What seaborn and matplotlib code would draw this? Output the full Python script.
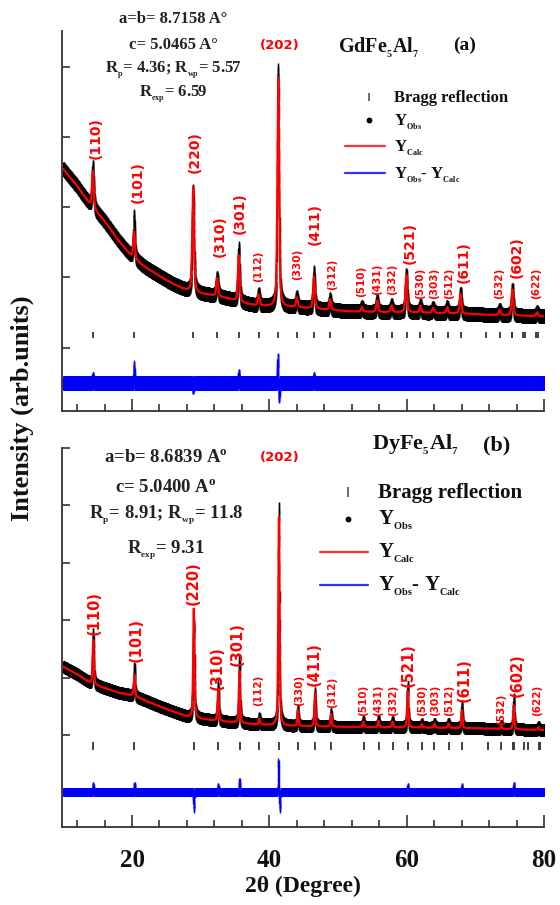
import numpy as np
import pandas as pd
import matplotlib
matplotlib.use("Agg")
import matplotlib.pyplot as plt
from matplotlib.lines import Line2D
from matplotlib.ticker import FixedLocator, MultipleLocator
import seaborn as sns

# ---------------------------------------------------------------- data
two_theta = np.round(np.arange(10.0, 80.0 + 1e-9, 0.02), 2)

hkl = ["(110)", "(101)", "(220)", "(310)", "(301)", "(112)", "(202)",
       "(330)", "(411)", "(312)", "(510)", "(431)", "(332)", "(521)",
       "(530)", "(303)", "(512)", "(611)", "(532)", "(602)", "(622)"]

# GdFe5Al7 (a)
gd_pos = [14.3, 20.3, 28.9, 32.4, 35.55, 38.45, 41.3, 44.0, 46.5, 48.85,
          53.5, 55.7, 57.8, 59.95, 62.0, 63.85, 65.9, 67.85, 73.55, 75.4, 79.0]
gd_height = [530, 385, 1495, 256, 660, 155, 3250, 136, 460, 148,
             66, 163, 94, 533, 97, 70, 88, 283, 75, 365, 55]
gd_bg_x = [10, 12, 14, 16, 18, 20, 22, 24, 26, 28, 30, 32, 34, 36, 38, 40,
           44, 48, 52, 56, 60, 64, 68, 72, 76, 80]
gd_bg_y = [2540, 2300, 2020, 1800, 1530, 1290, 1140, 1020, 905, 815, 770,
           740, 700, 640, 600, 588, 575, 545, 515, 508, 505, 495, 485, 468,
           458, 446]
gd_res_x = [14.3, 20.3, 28.9, 35.55, 41.22, 41.42, 46.5]
gd_res_a = [60, 220, -60, 100, 330, -190, 60]
gd_bragg = [14.3, 20.3, 28.9, 32.4, 35.6, 38.5, 41.3, 44.0, 46.5, 48.9,
            53.6, 55.7, 57.8, 60.0, 62.0, 63.9, 66.0, 67.9, 71.6, 73.6,
            75.3, 75.4, 76.9, 77.3, 78.9, 79.1]

# DyFe5Al7 (b)
dy_pos = [14.35, 20.35, 29.0, 32.55, 35.65, 38.55, 41.4, 44.15, 46.65, 49.0,
          53.7, 55.9, 57.95, 60.15, 62.2, 64.05, 66.1, 68.05, 73.8, 75.6, 79.2]
dy_height = [780, 380, 1900, 530, 915, 105, 3630, 285, 580, 220,
             90, 110, 95, 635, 60, 73, 75, 310, 55, 420, 53]
dy_bg_x = [10, 12, 14, 16, 18, 20, 22, 24, 26, 28, 30, 32, 34, 36, 38, 40,
           44, 50, 60, 70, 80]
dy_bg_y = [1190, 1060, 900, 820, 740, 690, 600, 500, 410, 322, 285, 255,
           230, 210, 185, 175, 155, 145, 136, 119, 87]
dy_res_x = [14.35, 20.35, 29.0, 32.55, 35.65, 41.32, 41.52, 60.15, 68.05, 75.6]
dy_res_a = [110, 110, -290, 90, 170, 520, -290, 80, 80, 110]
dy_bragg = [14.35, 20.35, 29.0, 32.55, 35.7, 38.55, 41.4, 44.15, 46.65, 49.0,
            53.75, 55.9, 57.95, 60.15, 62.25, 64.05, 66.15, 68.1, 71.85, 73.8,
            75.5, 75.65, 77.15, 77.6, 79.2, 79.35]

SUB = r"{}_{\rm %s}"
gd_text = ["a=b= 8.7158 A°", "c= 5.0465 A°",
           r"R$_{%s}$= 4.36; R$_{%s}$= 5.57" % (SUB % "p", SUB % "wp"),
           r"R$_{%s}$= 6.59" % (SUB % "exp")]
dy_text = [r"a=b= 8.6839 A$^{\rm o}$", r"c= 5.0400 A$^{\rm o}$",
           r"R$_{%s}$= 8.91; R$_{%s}$= 11.8" % (SUB % "p", SUB % "wp"),
           r"R$_{%s}$= 9.31" % (SUB % "exp")]

# ---------------------------------------------------------------- style
sns.set_theme(style="ticks")
plt.rcParams.update({
    "font.family": ["Liberation Serif", "DejaVu Serif"],
    "font.weight": "bold",
    "mathtext.fontset": "custom",
    "mathtext.rm": "Liberation Serif:bold",
    "mathtext.it": "Liberation Serif:bold",
    "mathtext.bf": "Liberation Serif:bold",
    "axes.unicode_minus": False,
})

W, H = 560, 905
fig = plt.figure(figsize=(W / 100, H / 100), dpi=100)
fig.patch.set_facecolor("white")


def fx(p):
    return p / W


def fy(p):
    return 1 - p / H


def profile(pos, amp, fwhm, eta):
    y = np.zeros_like(two_theta, dtype=float)
    for p, a in zip(pos, amp):
        u = (two_theta - p) / fwhm
        y += a * (eta / (1 + 4 * u ** 2) + (1 - eta) * np.exp(-4 * np.log(2) * u ** 2))
    return y


def draw_panel(ax, pos, height, fwhm, bg_x, bg_y, res_x, res_a, bragg,
               ylim, yticks, diff_off, bragg_y, obs_ms, diff_ms, bragg_ms):
    calc = np.interp(two_theta, bg_x, bg_y) + profile(pos, height, fwhm, 0.5)
    obs = calc + profile(res_x, res_a, 0.12, 0.0)
    df = pd.DataFrame({"tt": two_theta, "obs": obs, "calc": calc,
                       "diff": obs - calc + diff_off})
    sns.scatterplot(data=df, x="tt", y="obs", marker="|", s=obs_ms ** 2,
                    linewidth=1.0, color="black", ax=ax, legend=False, zorder=2)
    sns.lineplot(data=df, x="tt", y="calc", color="#ff0000", linewidth=1.6,
                 estimator=None, sort=False, ax=ax, zorder=3)
    sns.scatterplot(data=df, x="tt", y="diff", marker="|", s=diff_ms ** 2,
                    linewidth=1.0, color="#0000ff", ax=ax, legend=False, zorder=2)
    ax.plot(bragg, [bragg_y] * len(bragg), ls="none", marker="|",
            ms=bragg_ms, mew=1.3, color="#333333", zorder=2)

    ax.set_xlim(9.8, 80)
    ax.set_ylim(*ylim)
    ax.xaxis.set_major_locator(FixedLocator([20, 40, 60, 80]))
    ax.xaxis.set_minor_locator(MultipleLocator(4))
    ax.yaxis.set_major_locator(FixedLocator(yticks))
    ax.tick_params(axis="x", which="major", direction="in", length=9,
                   width=1.2, color="#333333")
    ax.tick_params(axis="x", which="minor", direction="in", length=4.7,
                   width=1.2, color="#333333")
    ax.tick_params(axis="y", which="major", direction="in", length=5.5,
                   width=1.2, color="#333333", labelleft=False)
    for side in ("top", "right"):
        ax.spines[side].set_visible(False)
    for side in ("left", "bottom"):
        ax.spines[side].set_color("#333333")
        ax.spines[side].set_linewidth(1.3)
    ax.set_xlabel("")
    ax.set_ylabel("")


def peak_labels(ax, anchors, big_size, small_size):
    for lab, (x, y, big) in zip(hkl, anchors):
        if lab == "(202)":
            continue
        ax.text(x, y, lab, rotation=90, ha="center", va="center",
                color="#ff0000", fontsize=big_size if big else small_size,
                family="DejaVu Sans", fontweight="bold", zorder=4)


def legend_block(x_sym, x_txt, ys, base_off, size, line_len):
    y_bragg, y_obs, y_calc, y_diff = ys
    fig.add_artist(Line2D([fx(x_sym)], [fy(y_bragg)], ls="none", marker="|",
                          ms=size * 0.45, mew=1.2, color="#555555",
                          transform=fig.transFigure))
    fig.add_artist(Line2D([fx(x_sym)], [fy(y_obs)], ls="none", marker="o",
                          ms=3.2, color="black", transform=fig.transFigure))
    for yy, col in ((y_calc, "#ff3030"), (y_diff, "#3030ff")):
        fig.add_artist(Line2D([fx(x_sym - line_len / 2 - 4), fx(x_sym + line_len / 2 - 4)],
                              [fy(yy)] * 2, color=col, lw=1.6,
                              transform=fig.transFigure))
    texts = ["Bragg reflection",
             r"Y$_{%s}$" % (SUB % "Obs"),
             r"Y$_{%s}$" % (SUB % "Calc"),
             r"Y$_{%s}$- Y$_{%s}$" % (SUB % "Obs", SUB % "Calc")]
    for t, y in zip(texts, ys):
        fig.text(fx(x_txt), fy(y + base_off), t, fontsize=size, ha="left",
                 va="baseline", color="#111111")


# ---------------------------------------------------------------- panel (a)
ax1 = fig.add_axes([fx(62), fy(411), (544 - 62) / W, (411 - 31) / H])
draw_panel(ax1, gd_pos, gd_height, 0.30, gd_bg_x, gd_bg_y, gd_res_x, gd_res_a,
           gd_bragg, (-900, 4505), [0, 1000, 2000, 3000, 4000], -500, 185,
           obs_ms=10.5, diff_ms=9.5, bragg_ms=5.0)
ax1.tick_params(axis="x", labelbottom=False)

top_anchor = [(14.67, 2987, True), (20.8, 2361, True), (29.1, 2788, True),
              (32.75, 1593, True), (35.67, 1920, True), (38.3, 1152, False),
              (41.3, 0, True), (44.0, 1181, False), (46.6, 1764, True),
              (49.1, 1038, False), (53.3, 939, False), (55.65, 967, False),
              (57.83, 967, False), (60.46, 1494, True), (61.92, 910, False),
              (63.96, 910, False), (66.15, 910, False), (68.33, 1223, True),
              (73.44, 910, False), (76.06, 1294, True), (78.83, 910, False)]
peak_labels(ax1, top_anchor, 10, 7.5)
fig.text(fx(280), fy(45), "(202)", ha="center", va="center", color="#ff0000",
         fontsize=9.5, family="DejaVu Sans", fontweight="bold")

for t, yb in zip(gd_text, [23, 49, 73, 97]):
    fig.text(fx(173), fy(yb), t, ha="center", va="baseline", fontsize=12,
             color="#222222")
fig.text(fx(338), fy(53), r"GdFe$_{%s}$Al$_{%s}$" % ("{}_5", "{}_7"),
         ha="left", va="baseline", fontsize=14.5, color="#111111")
fig.text(fx(453), fy(50), "(a)", ha="left", va="baseline", fontsize=14,
         color="#111111")
legend_block(369, 394, [97, 120, 146, 173], 5.5, 12, 40)

# ---------------------------------------------------------------- panel (b)
ax2 = fig.add_axes([fx(62), fy(827), (544 - 62) / W, (827 - 448) / H])
draw_panel(ax2, dy_pos, dy_height, 0.22, dy_bg_x, dy_bg_y, dy_res_x, dy_res_a,
           dy_bragg, (-1600, 5000), [0, 1000, 2000, 3000, 4000, 5000], -990,
           -190, obs_ms=8.0, diff_ms=5.5, bragg_ms=5.8)
ax2.tick_params(axis="x", which="major", pad=16, labelsize=18,
                labelcolor="#111111")
for lab in ax2.get_xticklabels():
    lab.set_fontweight("bold")

bot_anchor = [(14.52, 2122, True), (20.65, 1652, True), (28.96, 2643, True),
              (32.46, 1165, True), (35.38, 1583, True), (38.3, 783, False),
              (41.4, 0, True), (44.27, 783, False), (46.6, 1235, True),
              (49.08, 748, False), (53.6, 609, False), (55.8, 609, False),
              (57.98, 609, False), (60.17, 1217, True), (62.2, 609, False),
              (64.1, 609, False), (66.15, 609, False), (68.33, 957, True),
              (73.73, 452, False), (76.06, 1043, True), (78.98, 609, False)]
peak_labels(ax2, bot_anchor, 10.5, 7.5)
fig.text(fx(280), fy(457), "(202)", ha="center", va="center", color="#ff0000",
         fontsize=9.5, family="DejaVu Sans", fontweight="bold")

for t, yb in zip(dy_text, [462, 492, 518, 553]):
    fig.text(fx(166), fy(yb), t, ha="center", va="baseline", fontsize=13.5,
             color="#222222")
fig.text(fx(372), fy(450), r"DyFe$_{%s}$Al$_{%s}$" % ("{}_5", "{}_7"),
         ha="left", va="baseline", fontsize=16, color="#111111")
fig.text(fx(483), fy(450), "(b)", ha="left", va="baseline", fontsize=16,
         color="#111111")
legend_block(348, 378, [492, 519, 552, 585], 6, 15, 48)

# ---------------------------------------------------------------- axis titles
fig.text(fx(22), fy(408), "Intensity (arb.units)", rotation=90, ha="center",
         va="center", fontsize=19, color="#111111")
fig.text(fx(303), fy(886), "2θ (Degree)", ha="center", va="center",
         fontsize=17, color="#111111")

fig.savefig("out.png", dpi=100, facecolor="white")
